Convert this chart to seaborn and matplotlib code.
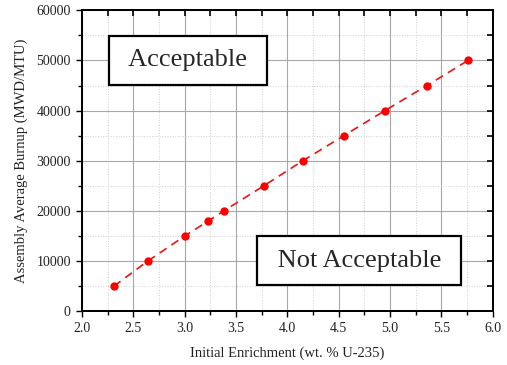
import numpy as np
import pandas as pd
import matplotlib.pyplot as plt
import seaborn as sns
from matplotlib.ticker import MultipleLocator, NullFormatter

enrichment = [2.31, 2.64, 3.00, 3.23, 3.38, 3.77, 4.15, 4.55, 4.95, 5.36, 5.76]
burnup = [5000, 10000, 15000, 18000, 20000, 25000, 30000, 35000, 40000, 45000, 50000]

df = pd.DataFrame({'enrichment': enrichment, 'burnup': burnup})

sns.set_style("ticks")
plt.rcParams['font.family'] = ['Liberation Serif', 'DejaVu Serif']

fig = plt.figure(figsize=(5.07, 3.65), dpi=100)
ax = fig.add_axes([0.1617, 0.1471, 0.81, 0.8247])

sns.lineplot(data=df, x='enrichment', y='burnup', ax=ax, color='#ee1111',
             linestyle=(0, (5, 3.5)), linewidth=1.2, marker='o', markersize=6,
             markeredgewidth=0, markerfacecolor='#ff0000')

ax.set_xlim(2.0, 6.0)
ax.set_ylim(0, 60000)
ax.xaxis.set_major_locator(MultipleLocator(0.5))
ax.xaxis.set_minor_locator(MultipleLocator(0.25))
ax.yaxis.set_major_locator(MultipleLocator(10000))
ax.yaxis.set_minor_locator(MultipleLocator(5000))

ax.grid(which='major', color='#a8a8a8', linewidth=0.8, linestyle='-')
ax.grid(which='minor', color='#cfcfcf', linewidth=0.7, linestyle=':')
ax.set_axisbelow(True)

for s in ax.spines.values():
    s.set_color('black')
    s.set_linewidth(1.2)

# bottom / left ticks point out
ax.tick_params(which='both', direction='out', color='black', labelcolor='#222222',
               labelsize=10, width=1.0)
ax.tick_params(which='major', length=4.5)
ax.tick_params(which='minor', length=3)
ax.set_xticklabels([f'{v:.1f}' for v in ax.get_xticks()])
ax.set_yticklabels([f'{int(v)}' for v in ax.get_yticks()])

# top / right ticks point in
axt = ax.twiny()
axt.set_xlim(ax.get_xlim())
axt.xaxis.set_major_locator(MultipleLocator(0.25))
axt.xaxis.set_major_formatter(NullFormatter())
axt.tick_params(axis='x', which='both', direction='in', length=4.5, width=1.2, color='black')
axt.grid(False)
axr = ax.twinx()
axr.set_ylim(ax.get_ylim())
axr.yaxis.set_major_locator(MultipleLocator(5000))
axr.yaxis.set_major_formatter(NullFormatter())
axr.tick_params(axis='y', which='both', direction='in', length=4.5, width=1.2, color='black')
axr.grid(False)
for extra in (axt, axr):
    for s in extra.spines.values():
        s.set_linewidth(1.2)
        s.set_color('black')

ax.set_xlabel('Initial Enrichment (wt. % U-235)', fontsize=10.5, labelpad=8, color='#222222')
ax.set_ylabel('Assembly Average Burnup (MWD/MTU)', fontsize=10.5, labelpad=6, color='#222222')

box = dict(boxstyle='square,pad=0.52', facecolor='white', edgecolor='black', linewidth=1.6)
ax.text(3.036, 50000, ' Acceptable ', fontsize=19, ha='center', va='center', bbox=box, zorder=5)
ax.text(4.70, 10100, ' Not Acceptable ', fontsize=19, ha='center', va='center', bbox=box, zorder=5)

fig.savefig('out.png', dpi=100)
